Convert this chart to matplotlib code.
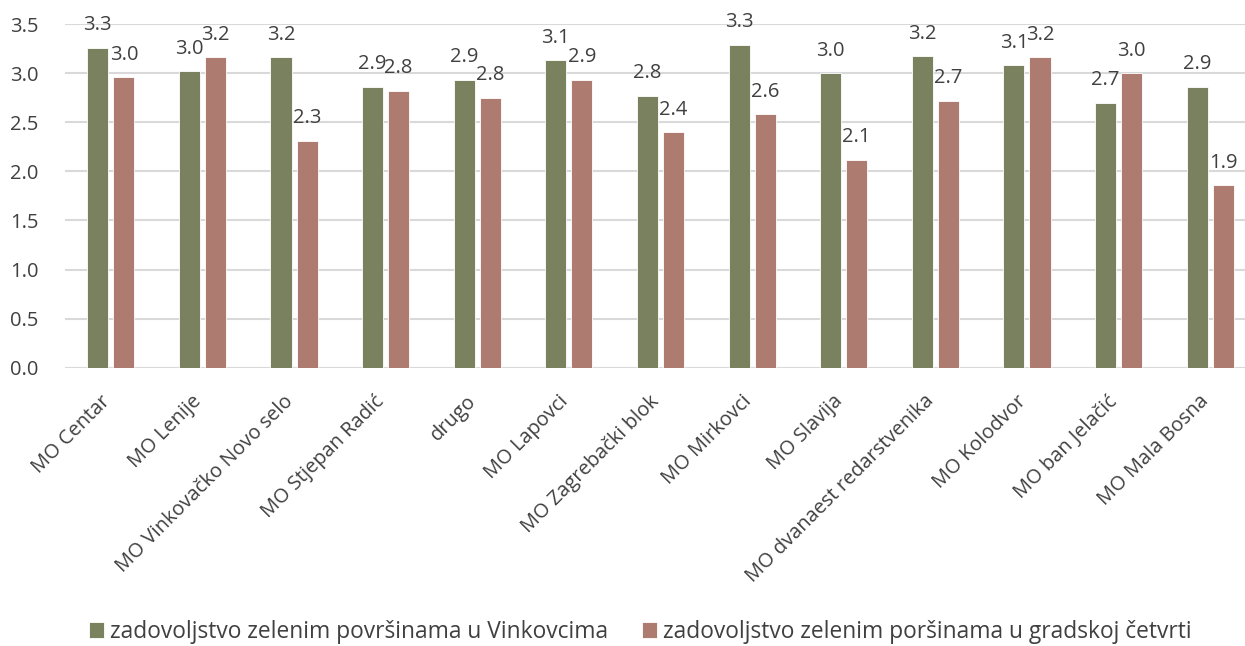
import matplotlib
matplotlib.use("Agg")
import matplotlib.pyplot as plt
import matplotlib.transforms as mtransforms
import numpy as np

categories = ["MO Centar", "MO Lenije", "MO Vinkovačko Novo selo", "MO Stjepan Radić",
              "drugo", "MO Lapovci", "MO Zagrebački blok", "MO Mirkovci", "MO Slavija",
              "MO dvanaest redarstvenika", "MO Kolodvor", "MO ban Jelačić", "MO Mala Bosna"]
series_names = ["zadovoljstvo zelenim površinama u Vinkovcima",
                "zadovoljstvo zelenim poršinama u gradskoj četvrti"]
vinkovci = [3.26, 3.02, 3.16, 2.86, 2.93, 3.13, 2.77, 3.29, 3.00, 3.17, 3.08, 2.70, 2.86]
cetvrt = [2.96, 3.16, 2.31, 2.82, 2.75, 2.93, 2.40, 2.58, 2.12, 2.72, 3.16, 3.00, 1.86]
yticks = [0.0, 0.5, 1.0, 1.5, 2.0, 2.5, 3.0, 3.5]

GREEN = "#7A815F"
RED = "#AD7B70"
TXT = "#404040"

plt.rcParams['font.family'] = ['Open Sans', 'DejaVu Sans']

fig = plt.figure(figsize=(12.45, 6.46), dpi=100)
ax = fig.add_axes([65/1245, 1-367.7/646, 1-65/1245, (367.7-24)/646])

x = np.arange(len(categories))
w = 0.23
off = 0.142
b1 = ax.bar(x - off, vinkovci, w, color=GREEN, edgecolor="white", linewidth=0.6,
            label=series_names[0], zorder=3)
b2 = ax.bar(x + off, cetvrt, w, color=RED, edgecolor="white", linewidth=0.6,
            label=series_names[1], zorder=3)

ax.set_ylim(0, 3.5)
ax.set_xlim(-0.5, 12.38)

# label baseline ~17.5 px above bar top, but kept inside the chart area
px_per_unit = ax.get_position().height * 646 / 3.5
lab_off = 17.5 / px_per_unit
lab_max = 3.5 + 11 / px_per_unit
for bars, vals in ((b1, vinkovci), (b2, cetvrt)):
    for r, v in zip(bars, vals):
        ax.text(r.get_x() + r.get_width()/2, min(v + lab_off, lab_max), f"{v:.1f}",
                ha="center", va="baseline", fontsize=14.5, color=TXT, clip_on=False)

ax.set_yticks(yticks)
ax.set_yticklabels([f"{t:.1f}" for t in yticks], fontsize=14.5, color=TXT)
ax.yaxis.grid(True, color="#D9D9D9", linewidth=1.5, zorder=0)
ax.set_axisbelow(True)
for s in ax.spines.values():
    s.set_visible(False)
ax.tick_params(axis="y", length=0, pad=19)
ax.tick_params(axis="x", length=0, pad=17)
ax.set_xticks(x)
ax.set_xticklabels(categories, rotation=45, ha="right", va="top",
                   rotation_mode="anchor", fontsize=14.4, color=TXT)
shift = mtransforms.ScaledTranslation(-11/100, 0, fig.dpi_scale_trans)
for lab in ax.get_xticklabels():
    lab.set_transform(lab.get_transform() + shift)

ax.legend(loc="center", bbox_to_anchor=(640/1245, 1-632/646), bbox_transform=fig.transFigure,
          ncol=2, frameon=False, fontsize=16.4, handlelength=0.65, handleheight=0.65,
          handletextpad=0.26, columnspacing=1.5, labelcolor=TXT)

fig.savefig("out.png", dpi=100, facecolor="white")
